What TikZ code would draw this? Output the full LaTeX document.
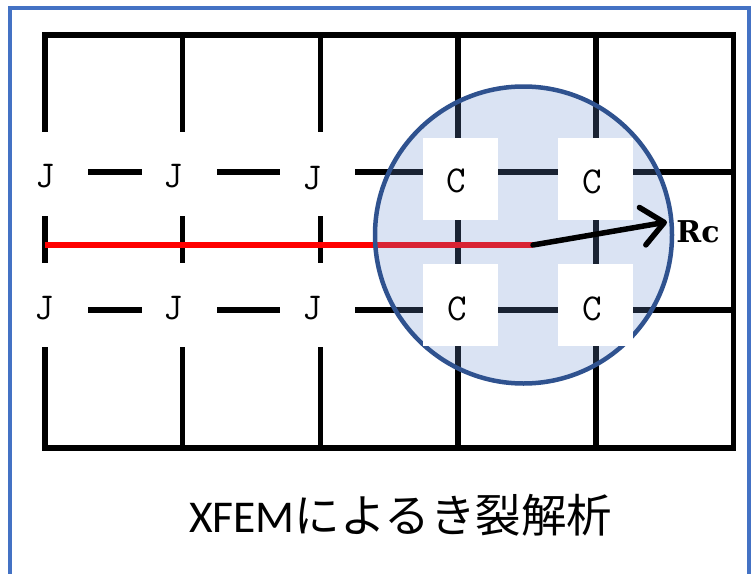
\documentclass[tikz,border=0pt]{standalone}
\usepackage{fontspec}
\setmainfont{Carlito}
\newfontfamily\cjk{Noto Sans CJK JP}
\newfontfamily\rcfont{DejaVu Serif}
\usetikzlibrary{arrows.meta}
\definecolor{frameblue}{HTML}{4472C4}
\definecolor{circline}{HTML}{2F528F}
\definecolor{circfill}{RGB}{107,143,207}
\begin{document}
\begin{tikzpicture}[x=1pt,y=-1pt,
  gridline/.style={line width=5.5pt, black},
  whitebox/.style={fill=white, draw=none, inner sep=0pt, minimum width=75pt},
  jbox/.style={whitebox, minimum height=84pt},
  cbox/.style={whitebox, minimum height=82pt},
  lab/.style={font=\ttfamily\fontsize{38}{38}\selectfont, inner sep=0pt}]
\useasboundingbox (0,0) rectangle (755,573);
% grid
\draw[gridline, line join=miter] (45,35) rectangle (733.5,448);
\foreach \x in {182.7,320.4,458.1,595.8} \draw[gridline] (\x,35) -- (\x,448);
\foreach \y in {172,310} \draw[gridline] (45,\y) -- (733.5,\y);
% crack
\coordinate (crackstart) at (45,245);
\coordinate (cracktip) at (533,245);
\draw[line width=6pt, red] (crackstart) -- (cracktip);
% circle
\node[circle, minimum size=297pt, inner sep=0pt, fill=circfill, fill opacity=0.25, draw=circline, draw opacity=1, line width=4.5pt] (zone) at (523.5,235) {};
% white boxes
\node[jbox] (jb1) at (50.5,174) {};
\node[jbox] (jb2) at (179.5,174) {};
\node[jbox] (jb3) at (317.5,174) {};
\node[jbox] (jb4) at (50.5,305) {};
\node[jbox] (jb5) at (179.5,305) {};
\node[jbox] (jb6) at (317.5,305) {};
\node[cbox] (cb1) at (460.5,179) {};
\node[cbox] (cb2) at (595.5,179) {};
\node[cbox] (cb3) at (460.5,305) {};
\node[cbox] (cb4) at (595.5,305) {};
% labels
\node[lab] (j1) at (45.5,176) {J};
\node[lab] (j2) at (173,176) {J};
\node[lab] (j3) at (312,178) {J};
\node[lab] (j4) at (44.5,308) {J};
\node[lab] (j5) at (173,308) {J};
\node[lab] (j6) at (312,308) {J};
\node[lab] (c1) at (456.5,181) {C};
\node[lab] (c2) at (592,182) {C};
\node[lab] (c3) at (457,309) {C};
\node[lab] (c4) at (592,309) {C};
% radius arrow
\coordinate (rcpt) at (667,222);
\draw[line width=5.5pt, line cap=round, -{Straight Barb[length=22pt,width=38pt,line cap=round,line join=round]}] (cracktip) -- (rcpt);
\node[font=\rcfont\bfseries\fontsize{30}{30}\selectfont, inner sep=0pt] (rc) at (698,232) {Rc};
% title
\node[anchor=base west, inner sep=0pt, font=\fontsize{45.5}{45.5}\selectfont] (title) at (189,532) {XFEM{\cjk によるき裂解析}};
% frame
\draw[frameblue, line width=4pt] (10,8) rectangle (749,620);
\end{tikzpicture}
\end{document}
